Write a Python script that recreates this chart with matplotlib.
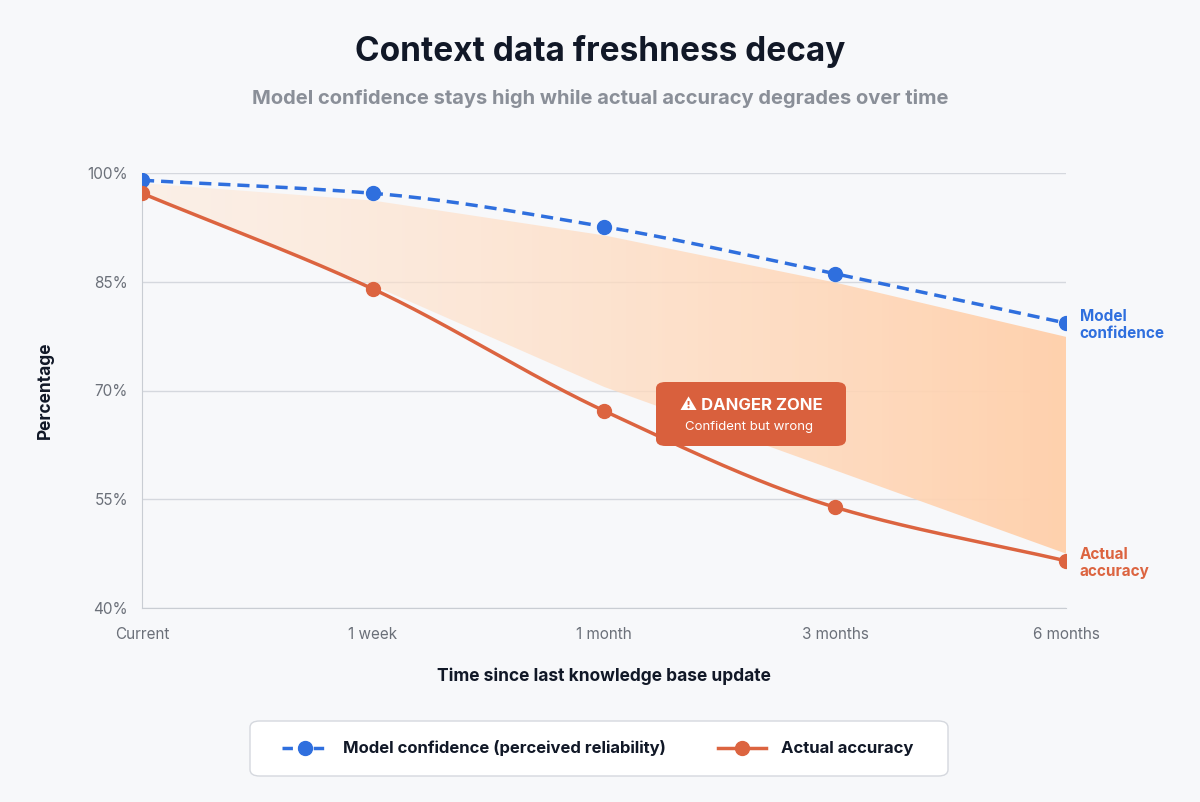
import numpy as np
import matplotlib
matplotlib.use("Agg")
import matplotlib.pyplot as plt
from matplotlib.patches import FancyBboxPatch, Polygon
from matplotlib.lines import Line2D
from matplotlib.colors import LinearSegmentedColormap

plt.rcParams['font.family'] = ['Inter', 'DejaVu Sans']

categories = ["Current", "1 week", "1 month", "3 months", "6 months"]
confidence = [99.0, 97.2, 92.6, 86.1, 79.3]
accuracy = [97.2, 84.0, 67.2, 53.9, 46.5]
fill_upper = [98.6, 96.2, 91.4, 84.9, 77.4]
fill_lower = [97.2, 84.5, 70.5, 59.0, 47.5]
yticks = [40, 55, 70, 85, 100]

BLUE = "#2f6fde"
ORANGE = "#dc6440"
BG = "#f7f8fa"

def pchip(x, y, n=300):
    x = np.asarray(x, float); y = np.asarray(y, float)
    h = np.diff(x); d = np.diff(y) / h
    m = np.zeros_like(y)
    for k in range(1, len(y) - 1):
        if d[k-1] * d[k] > 0:
            w1 = 2*h[k] + h[k-1]; w2 = h[k] + 2*h[k-1]
            m[k] = (w1 + w2) / (w1/d[k-1] + w2/d[k])
    m[0] = d[0]; m[-1] = d[-1]
    xs = np.linspace(x[0], x[-1], n); ys = np.empty_like(xs)
    for i, xv in enumerate(xs):
        k = min(np.searchsorted(x, xv, 'right') - 1, len(x) - 2)
        t = (xv - x[k]) / h[k]
        h00 = 2*t**3 - 3*t**2 + 1; h10 = t**3 - 2*t**2 + t
        h01 = -2*t**3 + 3*t**2; h11 = t**3 - t**2
        ys[i] = h00*y[k] + h10*h[k]*m[k] + h01*y[k+1] + h11*h[k]*m[k+1]
    return xs, ys

fig = plt.figure(figsize=(12, 8.02), dpi=100, facecolor=BG)
ax = fig.add_axes([142/1200, 1-608/802, 924/1200, 435/802])
ax.set_facecolor(BG)
x = np.arange(len(categories))
ax.set_xlim(0, 4); ax.set_ylim(40, 100)

poly = Polygon(list(zip(x, fill_upper)) + list(zip(x[::-1], fill_lower[::-1])), closed=True,
               facecolor='none', edgecolor='none')
ax.add_patch(poly)
grad = np.linspace(0, 1, 256).reshape(1, -1)
cmap = LinearSegmentedColormap.from_list("g", [(1, 0.9, 0.82, 0.45), (1, 0.82, 0.68, 1.0)])
im = ax.imshow(grad, extent=[0, 4, 40, 100], aspect='auto', cmap=cmap, zorder=1, origin='lower')
im.set_clip_path(poly)

for yt in yticks:
    ax.axhline(yt, color="#d5d8de", lw=1, zorder=0)

xs, ys = pchip(x, confidence)
ax.plot(xs, ys, color=BLUE, lw=2.5, ls=(0, (3.5, 2)), zorder=3)
ax.plot(x, confidence, 'o', color=BLUE, ms=10, zorder=4)
xs, ys = pchip(x, accuracy)
ax.plot(xs, ys, color=ORANGE, lw=2.5, zorder=3)
ax.plot(x, accuracy, 'o', color=ORANGE, ms=10, zorder=4)

for s in ['top', 'right']:
    ax.spines[s].set_visible(False)
for s in ['left', 'bottom']:
    ax.spines[s].set_color("#c9cdd3")
ax.tick_params(length=0, colors="#6b7079", labelsize=11)
ax.set_xticks(x); ax.set_xticklabels(categories)
ax.set_yticks(yticks); ax.set_yticklabels([f"{v}%" for v in yticks])
ax.tick_params(axis='x', pad=14)
ax.tick_params(axis='y', pad=10)
ax.set_ylabel("Percentage", fontsize=12.5, fontweight='bold', color="#111827", labelpad=24)
ax.set_xlabel("Time since last knowledge base update", fontsize=12.5, fontweight='bold',
              color="#111827", labelpad=18)

ax.text(4.06, confidence[-1] - 0.3, "Model\nconfidence", color=BLUE, fontsize=11,
        fontweight='bold', va='center', ha='left', clip_on=False, linespacing=1.2)
ax.text(4.06, accuracy[-1] - 0.3, "Actual\naccuracy", color=ORANGE, fontsize=11,
        fontweight='bold', va='center', ha='left', clip_on=False, linespacing=1.2)

fig.patches.append(FancyBboxPatch((656/1200, 1-446/802), 190/1200, 64/802,
                                  boxstyle="round,pad=0,rounding_size=0.008",
                                  transform=fig.transFigure, facecolor="#d9603d",
                                  edgecolor='none', zorder=5))
fig.text(751/1200, 1-405/802, "⚠ DANGER ZONE", color='white', fontsize=12, fontweight='bold',
         ha='center', va='center', zorder=6)
fig.text(749/1200, 1-427/802, "Confident but wrong", color='white', fontsize=9.5,
         ha='center', va='center', zorder=6)

fig.text(0.5, 1-52/802, "Context data freshness decay", ha='center', va='center',
         fontsize=24, fontweight='bold', color="#111827")
fig.text(0.5, 1-99/802, "Model confidence stays high while actual accuracy degrades over time",
         ha='center', va='center', fontsize=14.5, fontweight='bold', color="#8a8f98")

fig.patches.append(FancyBboxPatch((250/1200, 1-776/802), 698/1200, 55/802,
                                  boxstyle="round,pad=0,rounding_size=0.008",
                                  transform=fig.transFigure, facecolor='white',
                                  edgecolor="#d5d8de", lw=1))
ly = 1-748/802
fig.add_artist(Line2D([282/1200, 328/1200], [ly, ly], color=BLUE, lw=2.5, ls=(0, (3, 1.5)),
                      transform=fig.transFigure))
fig.add_artist(Line2D([305/1200], [ly], color=BLUE, marker='o', ms=10, transform=fig.transFigure))
fig.text(343/1200, ly, "Model confidence (perceived reliability)", fontsize=12, fontweight='bold',
         color="#111827", va='center')
fig.add_artist(Line2D([718/1200, 766/1200], [ly, ly], color=ORANGE, lw=2.5, transform=fig.transFigure))
fig.add_artist(Line2D([742/1200], [ly], color=ORANGE, marker='o', ms=10, transform=fig.transFigure))
fig.text(781/1200, ly, "Actual accuracy", fontsize=12, fontweight='bold', color="#111827", va='center')

fig.savefig("out.png", dpi=100, facecolor=BG)
